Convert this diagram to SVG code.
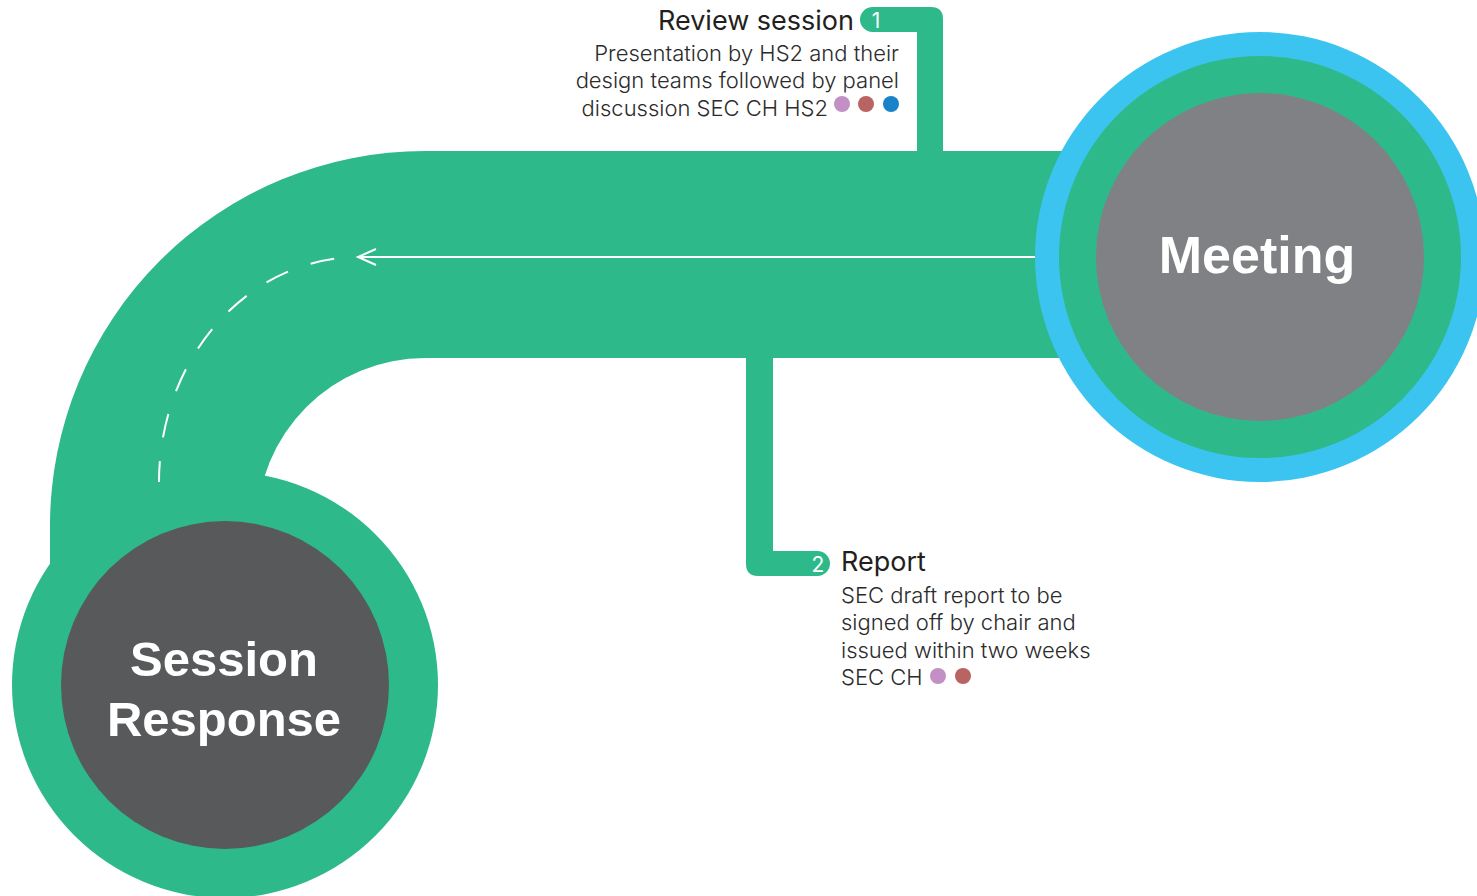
<svg xmlns="http://www.w3.org/2000/svg" width="1477" height="896" viewBox="0 0 1477 896">
<defs>
<style>
.g{fill:#2eb98a}
.lbl{font-family:"Inter","Liberation Sans",sans-serif;fill:#231f20}
.title{font-size:27px;font-weight:400}
.body{font-size:22px;font-weight:300;fill:#2b2b2b}
.num{font-family:"Inter","Liberation Sans",sans-serif;font-size:21px;fill:#fff;text-anchor:middle}
.big{font-family:"Liberation Sans",Arial,sans-serif;font-weight:700;fill:#fff;text-anchor:middle}
</style>
<marker id="open" markerWidth="24" markerHeight="20" refX="20" refY="10" orient="auto" markerUnits="userSpaceOnUse">
<path d="M2 2 L20 10 L2 18" fill="none" stroke="#fff" stroke-width="2"/>
</marker>
</defs>
<rect width="1477" height="896" fill="#fff"/>
<g id="band">
<path class="g" d="M1260 151 H425 A375 375 0 0 0 50 526 V620 H257 V526 A168 168 0 0 1 425 358 H1260 Z"/>
</g>
<g id="connectors">
<path class="g" d="M872.5 7 H931 Q943 7 943 19 V155 H917 V32 H872.5 A12.5 12.5 0 0 1 872.5 7 Z"/>
<path class="g" d="M746 354 H773 V551 H817.5 A12.5 12.5 0 0 1 817.5 576 H758 Q746 576 746 564 Z"/>
<path d="M1040 257 H358" fill="none" stroke="#fff" stroke-width="2" marker-end="url(#open)"/>
<path d="M358 257 A200 225 0 0 0 159 482" fill="none" stroke="#fff" stroke-width="2" stroke-dasharray="24 24" stroke-dashoffset="24"/>
</g>
<g id="meeting">
<circle cx="1260" cy="257" r="225" fill="#3bc4f0"/>
<circle cx="1260" cy="257" r="201" class="g"/>
<circle cx="1260" cy="257" r="164" fill="#808184"/>
<text class="big" x="1257" y="273" font-size="52">Meeting</text>
</g>
<g id="session-response">
<circle cx="225" cy="685" r="213" class="g"/>
<circle cx="225" cy="685" r="164" fill="#58595b"/>
<text class="big" x="224" y="676" font-size="49">Session</text>
<text class="big" x="224" y="736" font-size="49">Response</text>
</g>
<g id="review-session">
<text class="num" x="876" y="28">1</text>
<text class="lbl title" x="854" y="30" text-anchor="end">Review session</text>
<text class="lbl body" text-anchor="end"><tspan x="899" y="61">Presentation by HS2 and their</tspan><tspan x="899" y="88">design teams followed by panel</tspan><tspan x="828" y="116">discussion SEC CH HS2</tspan></text>
<circle cx="842" cy="104" r="8" fill="#c390c6"/>
<circle cx="866" cy="104" r="8" fill="#b86462"/>
<circle cx="891" cy="104" r="8" fill="#1a82c8"/>
</g>
<g id="report">
<text class="num" x="818" y="572">2</text>
<text class="lbl title" x="841" y="571">Report</text>
<text class="lbl body"><tspan x="841" y="603">SEC draft report to be</tspan><tspan x="841" y="630">signed off by chair and</tspan><tspan x="841" y="658">issued within two weeks</tspan><tspan x="841" y="685">SEC CH</tspan></text>
<circle cx="938" cy="676" r="8" fill="#c390c6"/>
<circle cx="963" cy="676" r="8" fill="#b86462"/>
</g>
</svg>
